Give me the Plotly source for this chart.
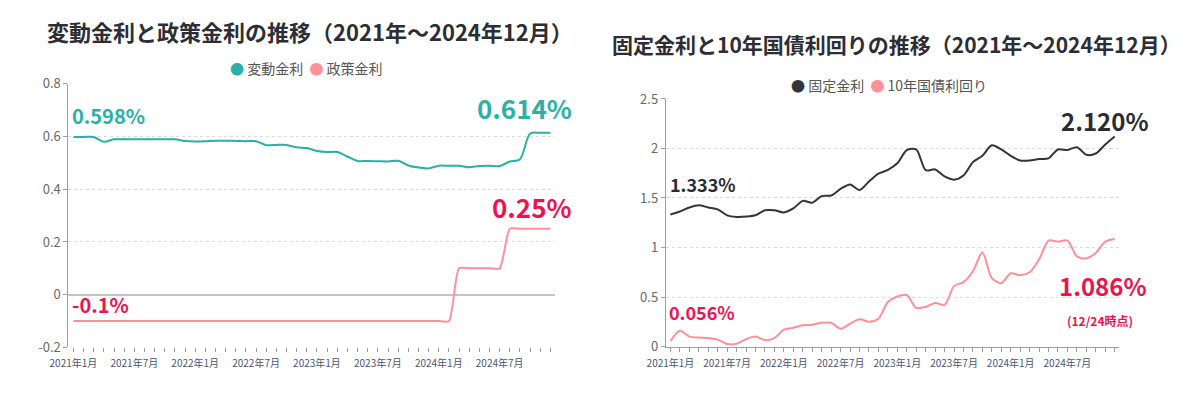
import plotly.graph_objects as go

# ---- data ----
month_labels = [
    "2021年1月", "2021年2月", "2021年3月", "2021年4月", "2021年5月", "2021年6月",
    "2021年7月", "2021年8月", "2021年9月", "2021年10月", "2021年11月", "2021年12月",
    "2022年1月", "2022年2月", "2022年3月", "2022年4月", "2022年5月", "2022年6月",
    "2022年7月", "2022年8月", "2022年9月", "2022年10月", "2022年11月", "2022年12月",
    "2023年1月", "2023年2月", "2023年3月", "2023年4月", "2023年5月", "2023年6月",
    "2023年7月", "2023年8月", "2023年9月", "2023年10月", "2023年11月", "2023年12月",
    "2024年1月", "2024年2月", "2024年3月", "2024年4月", "2024年5月", "2024年6月",
    "2024年7月", "2024年8月", "2024年9月", "2024年10月", "2024年11月", "2024年12月",
]

variable_rate = [
    0.598, 0.598, 0.598, 0.580, 0.589, 0.589, 0.589, 0.589, 0.589, 0.589, 0.589, 0.583,
    0.581, 0.582, 0.584, 0.584, 0.583, 0.582, 0.582, 0.567, 0.568, 0.568, 0.559, 0.556,
    0.545, 0.541, 0.541, 0.524, 0.507, 0.507, 0.506, 0.505, 0.508, 0.490, 0.482, 0.479,
    0.489, 0.489, 0.489, 0.483, 0.488, 0.489, 0.488, 0.505, 0.514, 0.611, 0.614, 0.614,
]

policy_rate = [
    -0.1, -0.1, -0.1, -0.1, -0.1, -0.1, -0.1, -0.1, -0.1, -0.1, -0.1, -0.1,
    -0.1, -0.1, -0.1, -0.1, -0.1, -0.1, -0.1, -0.1, -0.1, -0.1, -0.1, -0.1,
    -0.1, -0.1, -0.1, -0.1, -0.1, -0.1, -0.1, -0.1, -0.1, -0.1, -0.1, -0.1,
    -0.1, -0.1, 0.1, 0.1, 0.1, 0.1, 0.1, 0.25, 0.25, 0.25, 0.25, 0.25,
]

fixed_rate = [
    1.333, 1.363, 1.404, 1.427, 1.404, 1.385, 1.325, 1.309, 1.312, 1.325, 1.376, 1.376,
    1.354, 1.395, 1.471, 1.452, 1.519, 1.525, 1.592, 1.637, 1.580, 1.666, 1.745, 1.783,
    1.850, 1.984, 1.990, 1.781, 1.788, 1.717, 1.685, 1.727, 1.862, 1.926, 2.032, 1.990,
    1.926, 1.878, 1.878, 1.894, 1.900, 1.990, 1.984, 2.013, 1.936, 1.949, 2.039, 2.120,
]

jgb10_yield = [
    0.056, 0.160, 0.100, 0.090, 0.085, 0.070, 0.025, 0.028, 0.075, 0.100, 0.065, 0.085,
    0.170, 0.190, 0.215, 0.220, 0.240, 0.240, 0.180, 0.230, 0.275, 0.250, 0.280, 0.450,
    0.505, 0.520, 0.390, 0.400, 0.440, 0.420, 0.610, 0.650, 0.760, 0.950, 0.690, 0.640,
    0.740, 0.720, 0.750, 0.880, 1.070, 1.060, 1.070, 0.910, 0.890, 0.945, 1.060, 1.086,
]

left_yticks = [-0.2, 0, 0.2, 0.4, 0.6, 0.8]
left_yticktext = ["-0.2", "0", "0.2", "0.4", "0.6", "0.8"]
right_yticks = [0, 0.5, 1, 1.5, 2, 2.5]
right_yticktext = ["0", "0.5", "1", "1.5", "2", "2.5"]

# ---- style ----
FONT = "Noto Sans CJK JP"
TEAL = "#2bb0a6"
PINK = "#ff8f9a"
CRIMSON = "#ec1450"
DARK = "#33333d"
DARK_TXT = "#2b2b33"
GRID = "#dcdcdc"
AXIS = "#a0a0a0"
TICKLBL = "#6a6a6a"
XLBL = "#4e5573"

x = list(range(len(month_labels)))
tickvals = x[::6]
ticktext = month_labels[::6]

fig = go.Figure()

fig.add_trace(go.Scatter(x=x, y=variable_rate, mode="lines", name="変動金利",
                         line=dict(color=TEAL, width=2, shape="spline", smoothing=0.8),
                         xaxis="x", yaxis="y", showlegend=False, hoverinfo="skip"))
fig.add_trace(go.Scatter(x=x, y=policy_rate, mode="lines", name="政策金利",
                         line=dict(color=PINK, width=2, shape="spline", smoothing=0.6),
                         xaxis="x", yaxis="y", showlegend=False, hoverinfo="skip"))
fig.add_trace(go.Scatter(x=x, y=fixed_rate, mode="lines", name="固定金利",
                         line=dict(color=DARK, width=2, shape="spline", smoothing=0.8),
                         xaxis="x2", yaxis="y2", showlegend=False, hoverinfo="skip"))
fig.add_trace(go.Scatter(x=x, y=jgb10_yield, mode="lines", name="10年国債利回り",
                         line=dict(color=PINK, width=2, shape="spline", smoothing=0.8),
                         xaxis="x2", yaxis="y2", showlegend=False, hoverinfo="skip"))

H = 398.0
W = 1200.0
OFF = 8.0  # default page body margin of the html page


def px_x(v):
    return (v - OFF) / W


def px_y(v):
    return 1 - (v - OFF) / H


def xaxis_common(domain, anchor, showline):
    return dict(
        domain=domain, anchor=anchor, range=[-0.5, len(x) - 0.5],
        tickvals=tickvals, ticktext=ticktext,
        ticks="outside", ticklen=4, tickcolor=AXIS, tickwidth=1,
        minor=dict(ticks="outside", ticklen=4, dtick=1, tick0=0, tickcolor=AXIS, showgrid=False),
        showgrid=False, zeroline=False, showline=showline, linecolor=AXIS, linewidth=1,
        ticklabelstandoff=3,
        tickfont=dict(family=FONT, size=10, color=XLBL),
    )


def yaxis_common(domain, anchor, rng, tv, tt, zeroline):
    return dict(
        domain=domain, anchor=anchor, range=rng, tickvals=tv, ticktext=tt,
        showgrid=True, gridcolor=GRID, griddash="dot", gridwidth=1,
        zeroline=zeroline, zerolinecolor="#c4c4c4", zerolinewidth=1.5,
        showline=True, linecolor=AXIS, linewidth=1,
        ticks="outside", ticklen=4, tickcolor=AXIS,
        tickfont=dict(family=FONT, size=13, color=TICKLBL),
    )


fig.update_layout(
    width=1200, height=398,
    margin=dict(l=0, r=0, t=0, b=0),
    paper_bgcolor="white", plot_bgcolor="white",
    font=dict(family=FONT),
    showlegend=False,
    xaxis=xaxis_common([px_x(50), px_x(545)], "y", False),
    yaxis=yaxis_common([px_y(354), px_y(77)], "x", [-0.2, 0.8], left_yticks, left_yticktext, True),
    xaxis2=xaxis_common([px_x(657), px_x(1118)], "y2", True),
    yaxis2=yaxis_common([px_y(353), px_y(93)], "x2", [0, 2.5], right_yticks, right_yticktext, False),
)

ann = []
# titles
ann.append(dict(text="<b>変動金利と政策金利の推移（2021年～2024年12月）</b>", xref="paper", yref="paper",
                x=px_x(296), y=px_y(22), xanchor="center", yanchor="middle", showarrow=False,
                font=dict(family=FONT, size=22, color="#2d2d35")))
ann.append(dict(text="<b>固定金利と10年国債利回りの推移（2021年～2024年12月）</b>", xref="paper", yref="paper",
                x=px_x(891), y=px_y(35), xanchor="center", yanchor="middle", showarrow=False,
                font=dict(family=FONT, size=21, color="#2d2d35")))
# legends
ann.append(dict(text=f"<span style='color:{TEAL}'>●</span> 変動金利 &nbsp;<span style='color:{PINK}'>●</span> 政策金利",
                xref="paper", yref="paper", x=px_x(292), y=px_y(61), xanchor="center", yanchor="middle",
                showarrow=False, font=dict(family=FONT, size=14, color="#555555")))
ann.append(dict(text=f"<span style='color:{DARK}'>●</span> 固定金利 &nbsp;<span style='color:{PINK}'>●</span> 10年国債利回り",
                xref="paper", yref="paper", x=px_x(884), y=px_y(78), xanchor="center", yanchor="middle",
                showarrow=False, font=dict(family=FONT, size=14, color="#555555")))

last = len(x) - 1
# left value labels
ann.append(dict(text=f"<b>{variable_rate[0]:.3f}%</b>", xref="x", yref="y", x=0, y=variable_rate[0],
                xanchor="left", yanchor="middle", xshift=-3, yshift=21, showarrow=False,
                font=dict(family=FONT, size=20, color=TEAL)))
ann.append(dict(text=f"<b>{variable_rate[last]:.3f}%</b>", xref="x", yref="y", x=last, y=variable_rate[last],
                xanchor="right", yanchor="middle", xshift=24, yshift=25, showarrow=False,
                font=dict(family=FONT, size=26, color=TEAL)))
ann.append(dict(text=f"<b>{policy_rate[0]:g}%</b>", xref="x", yref="y", x=0, y=policy_rate[0],
                xanchor="left", yanchor="middle", xshift=-3, yshift=17, showarrow=False,
                font=dict(family=FONT, size=20, color=CRIMSON)))
ann.append(dict(text=f"<b>{policy_rate[last]:g}%</b>", xref="x", yref="y", x=last, y=policy_rate[last],
                xanchor="right", yanchor="middle", xshift=24, yshift=22, showarrow=False,
                font=dict(family=FONT, size=26, color=CRIMSON)))
# right value labels
ann.append(dict(text=f"<b>{fixed_rate[0]:.3f}%</b>", xref="x2", yref="y2", x=0, y=fixed_rate[0],
                xanchor="left", yanchor="middle", xshift=-2, yshift=31, showarrow=False,
                font=dict(family=FONT, size=18, color=DARK_TXT)))
ann.append(dict(text=f"<b>{fixed_rate[last]:.3f}%</b>", xref="x2", yref="y2", x=last, y=fixed_rate[last],
                xanchor="right", yanchor="middle", xshift=36, yshift=16, showarrow=False,
                font=dict(family=FONT, size=24, color=DARK_TXT)))
ann.append(dict(text=f"<b>{jgb10_yield[0]:.3f}%</b>", xref="x2", yref="y2", x=0, y=jgb10_yield[0],
                xanchor="left", yanchor="middle", xshift=-3, yshift=29, showarrow=False,
                font=dict(family=FONT, size=18, color=CRIMSON)))
ann.append(dict(text=f"<b>{jgb10_yield[last]:.3f}%</b>", xref="x2", yref="y2", x=last, y=jgb10_yield[last],
                xanchor="right", yanchor="middle", xshift=34, yshift=-47, showarrow=False,
                font=dict(family=FONT, size=24, color=CRIMSON)))
ann.append(dict(text="<b>(12/24時点)</b>", xref="x2", yref="y2", x=last, y=jgb10_yield[last],
                xanchor="left", yanchor="middle", xshift=-50, yshift=-82, showarrow=False,
                font=dict(family=FONT, size=12, color=CRIMSON)))

fig.update_layout(annotations=ann)

fig.write_html("out.html")
